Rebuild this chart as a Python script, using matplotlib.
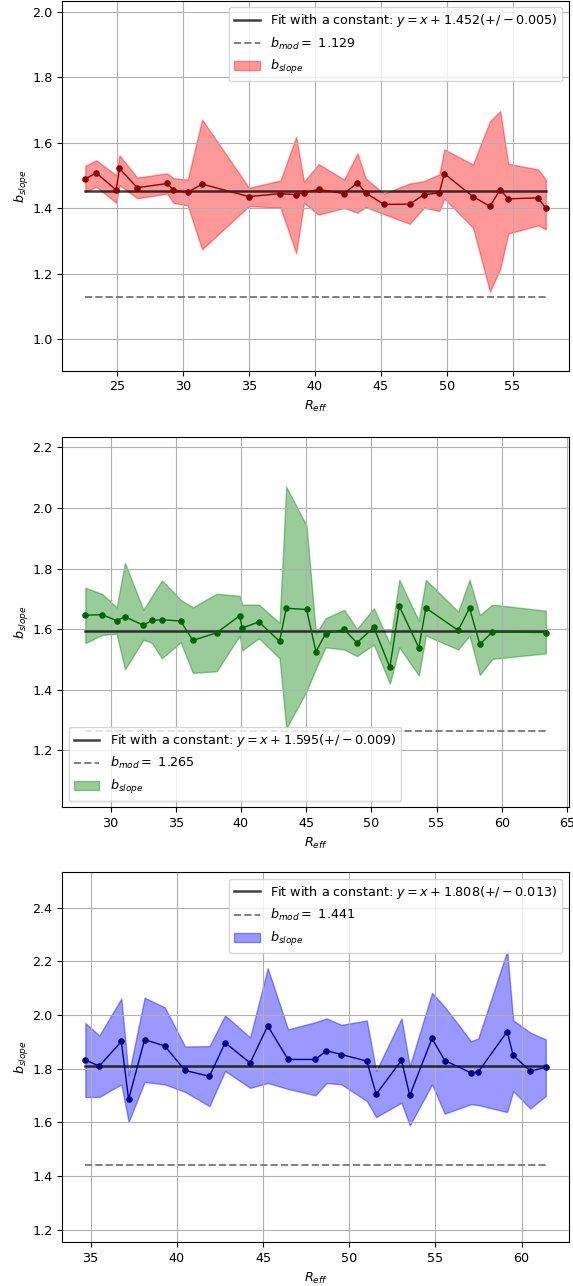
import numpy as np
import matplotlib.pyplot as plt

plt.rcParams['font.size'] = 9.2

# panel 1
r1 = [22.58, 23.41, 24.92, 25.17, 26.52, 28.79, 29.27, 30.35, 31.44, 35.0, 37.39, 38.58, 39.17, 40.28,
      42.22, 43.23, 43.86, 45.25, 47.20, 48.28, 49.44, 49.82, 52.0, 53.28, 54.06, 54.67, 56.94, 57.52]
b1 = [1.489, 1.507, 1.455, 1.521, 1.462, 1.475, 1.455, 1.448, 1.473, 1.435, 1.444, 1.441, 1.447, 1.457,
      1.444, 1.477, 1.446, 1.411, 1.412, 1.441, 1.446, 1.505, 1.435, 1.405, 1.456, 1.428, 1.431, 1.399]
up1 = [1.529, 1.546, 1.500, 1.561, 1.493, 1.506, 1.491, 1.487, 1.670, 1.462, 1.484, 1.618, 1.480, 1.534,
       1.487, 1.567, 1.490, 1.444, 1.475, 1.482, 1.503, 1.579, 1.533, 1.665, 1.696, 1.535, 1.518, 1.487]
lo1 = [1.449, 1.465, 1.416, 1.470, 1.430, 1.444, 1.416, 1.408, 1.274, 1.406, 1.401, 1.262, 1.416, 1.380,
       1.400, 1.386, 1.403, 1.381, 1.352, 1.401, 1.391, 1.429, 1.340, 1.145, 1.213, 1.322, 1.347, 1.335]

# panel 2
r2 = [28.06, 29.36, 30.46, 31.10, 32.51, 33.17, 33.93, 35.37, 36.31, 38.13, 39.89, 40.10, 41.37, 42.96,
      43.47, 45.03, 45.75, 46.49, 47.92, 48.89, 50.19, 51.42, 52.14, 53.64, 54.18, 56.66, 57.53, 58.32,
      59.29, 63.38]
b2 = [1.646, 1.648, 1.628, 1.641, 1.613, 1.629, 1.631, 1.627, 1.563, 1.588, 1.644, 1.604, 1.624, 1.560,
      1.669, 1.665, 1.526, 1.585, 1.599, 1.555, 1.606, 1.474, 1.676, 1.539, 1.670, 1.596, 1.670, 1.550,
      1.591, 1.589]
up2 = [1.737, 1.716, 1.672, 1.819, 1.664, 1.709, 1.761, 1.697, 1.672, 1.717, 1.710, 1.681, 1.681, 1.621,
       2.070, 1.942, 1.585, 1.636, 1.664, 1.601, 1.669, 1.552, 1.763, 1.628, 1.763, 1.658, 1.763, 1.647,
       1.681, 1.661]
lo2 = [1.554, 1.581, 1.585, 1.467, 1.565, 1.555, 1.504, 1.557, 1.456, 1.461, 1.578, 1.530, 1.570, 1.504,
       1.272, 1.395, 1.470, 1.540, 1.533, 1.511, 1.549, 1.420, 1.540, 1.447, 1.579, 1.533, 1.579, 1.449,
       1.502, 1.520]

# panel 3
r3 = [34.69, 35.50, 36.78, 37.20, 38.13, 39.30, 40.48, 41.89, 42.80, 44.25, 45.27, 46.45, 48.04,
      48.68, 49.55, 51.02, 51.56, 53.03, 53.51, 54.80, 55.54, 57.06, 57.48, 59.16, 59.51, 60.50, 61.40]
b3 = [1.832, 1.809, 1.901, 1.685, 1.908, 1.884, 1.793, 1.771, 1.896, 1.821, 1.959, 1.834, 1.834,
      1.867, 1.852, 1.828, 1.704, 1.831, 1.700, 1.912, 1.830, 1.784, 1.787, 1.938, 1.849, 1.791, 1.804]
up3 = [1.970, 1.923, 2.061, 1.775, 2.064, 2.028, 1.882, 1.884, 1.998, 1.916, 2.174, 1.946, 1.973,
       1.987, 1.963, 1.979, 1.791, 1.987, 1.809, 2.082, 2.030, 1.902, 1.912, 2.238, 1.980, 1.934, 1.909]
lo3 = [1.694, 1.694, 1.741, 1.601, 1.750, 1.741, 1.713, 1.660, 1.791, 1.728, 1.746, 1.724, 1.700,
       1.746, 1.741, 1.679, 1.619, 1.673, 1.588, 1.741, 1.632, 1.667, 1.664, 1.638, 1.716, 1.651, 1.698]

fits = [1.452, 1.595, 1.808]
errs = [0.005, 0.009, 0.013]
bmods = [1.129, 1.265, 1.441]
fill_col = ['red', 'green', 'blue']
line_col = ['darkred', 'darkgreen', 'darkblue']
legend_loc = ['upper right', 'lower left', 'upper right']

datos = [(r1, b1, up1, lo1), (r2, b2, up2, lo2), (r3, b3, up3, lo3)]
bottoms = [0.7117, 0.3722, 0.0340]

fig = plt.figure(figsize=(5.73, 12.86), dpi=100)

for i in range(3):
    r, b, up, lo = datos[i]
    ax = fig.add_axes([0.1087, bottoms[i], 0.884, 0.2877])
    xs = [r[0], r[-1]]
    ax.plot(xs, [fits[i], fits[i]], color='black', lw=1.8, alpha=0.75,
            label=r'Fit with a constant: $y=x+%.3f(+/-%.3f)$' % (fits[i], errs[i]))
    ax.plot(xs, [bmods[i], bmods[i]], color='gray', ls='--', lw=1.4,
            label=r'$b_{mod}=$ %.3f' % bmods[i])
    ax.fill_between(r, lo, up, color=fill_col[i], alpha=0.4, label=r'$b_{slope}$')
    ax.plot(r, b, 'o-', color=line_col[i], markersize=3.7, lw=1)
    ax.set_ylim(bmods[i] * 0.8, fits[i] * 1.4)
    ax.set_xlabel(r'$R_{eff}$')
    ax.set_ylabel(r'$b_{slope}$', labelpad=0.5)
    ax.grid(True)
    ax.legend(loc=legend_loc[i])

plt.savefig('out.png', dpi=100)
